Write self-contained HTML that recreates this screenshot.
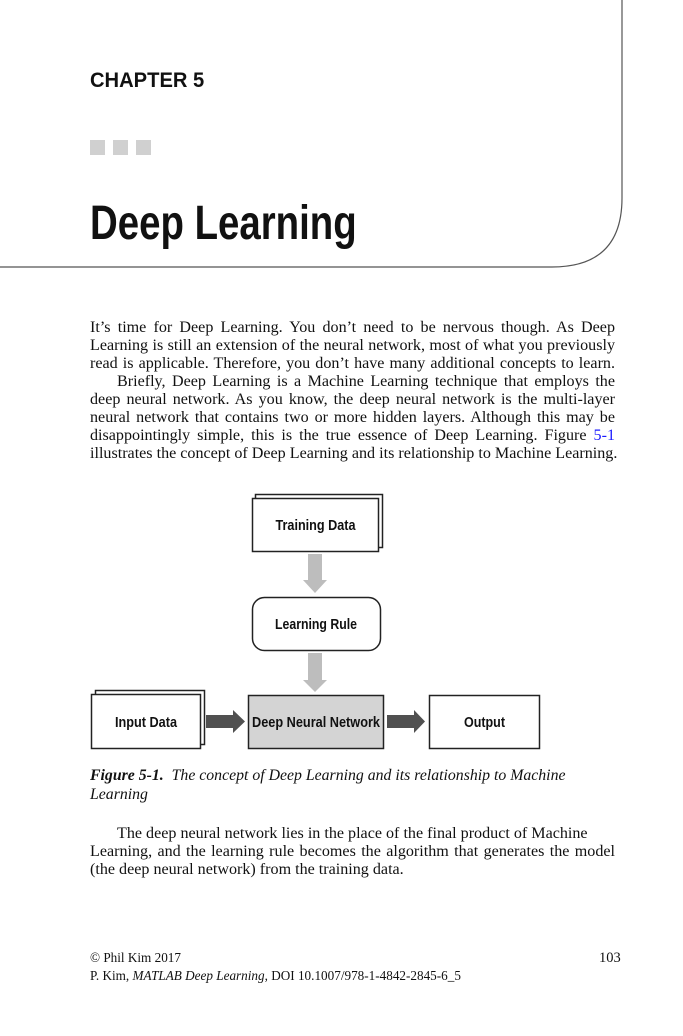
<!DOCTYPE html>
<html><head><meta charset="utf-8"><style>
html,body{margin:0;padding:0;background:#fff;}
body{width:683px;height:1036px;position:relative;overflow:hidden;font-family:"Liberation Serif",serif;color:#111;}
.l{position:absolute;left:90px;font-size:16.1px;white-space:nowrap;line-height:18px;}
.j{width:525px;text-align:justify;text-align-last:justify;}
.h{position:absolute;font-family:"Liberation Sans",sans-serif;font-weight:bold;white-space:nowrap;transform-origin:0 0;}
.sq{position:absolute;top:140px;width:15px;height:15px;background:#d0d0d0;}
.f{position:absolute;font-size:13.2px;white-space:nowrap;}
</style></head><body>
<svg style="position:absolute;left:0;top:0" width="683" height="280">
<path d="M622,0 V198 Q622,267 552,267 H0" fill="none" stroke="#555" stroke-width="1.2"/>
</svg>
<div class="h" style="left:90px;top:69px;font-size:21px;transform:scaleX(0.96);">CHAPTER 5</div>
<div class="sq" style="left:90px"></div><div class="sq" style="left:113px"></div><div class="sq" style="left:136px"></div>
<div class="h" style="left:90px;top:196px;font-size:48px;transform:scaleX(0.8);">Deep Learning</div>

<div class="l j" style="top:319px">It’s time for Deep Learning. You don’t need to be nervous though. As Deep</div>
<div class="l j" style="top:337px">Learning is still an extension of the neural network, most of what you previously</div>
<div class="l j" style="top:355px">read is applicable. Therefore, you don’t have many additional concepts to learn.</div>
<div class="l" style="top:373px;left:117px;width:498px;text-align:justify;text-align-last:justify">Briefly, Deep Learning is a Machine Learning technique that employs the</div>
<div class="l j" style="top:391px">deep neural network. As you know, the deep neural network is the multi-layer</div>
<div class="l j" style="top:409px">neural network that contains two or more hidden layers. Although this may be</div>
<div class="l j" style="top:427px">disappointingly simple, this is the true essence of Deep Learning. Figure <span style="color:#1a1aff">5-1</span></div>
<div class="l j" style="top:445px">illustrates the concept of Deep Learning and its relationship to Machine Learning.</div>

<svg style="position:absolute;left:0;top:480px" width="683" height="280" font-family="Liberation Sans, sans-serif" font-size="14.5" font-weight="bold">
<g transform="translate(0,-480)" stroke="#222" stroke-width="1.5">
<rect x="255.5" y="494.5" width="127" height="53" fill="#fff"/>
<rect x="252.5" y="498.5" width="126" height="53" fill="#fff"/>
<rect x="252.5" y="597.5" width="128" height="53" rx="12" fill="#fff"/>
<rect x="95.5" y="690.5" width="109" height="54" fill="#fff"/>
<rect x="91.5" y="694.5" width="109" height="54" fill="#fff"/>
<rect x="248.5" y="695.5" width="135" height="53" fill="#d4d4d4"/>
<rect x="429.5" y="695.5" width="110" height="53" fill="#fff"/>
</g>
<g transform="translate(0,-480)" stroke="none">
<path d="M308,554 H322 V580 H327 L315,593 L303,580 H308 Z" fill="#bdbdbd"/>
<path d="M308,653 H322 V680 H327 L315,692 L303,680 H308 Z" fill="#bdbdbd"/>
<path d="M206,715 H233 V710 L245,721.5 L233,733 V728 H206 Z" fill="#505050"/>
<path d="M387,715 H414 V710 L425,721.5 L414,733 V728 H387 Z" fill="#505050"/>
<g fill="#111" text-anchor="middle">
<text x="315.5" y="530" textLength="80" lengthAdjust="spacingAndGlyphs">Training Data</text>
<text x="316" y="629" textLength="82" lengthAdjust="spacingAndGlyphs">Learning Rule</text>
<text x="146" y="727" textLength="62" lengthAdjust="spacingAndGlyphs">Input Data</text>
<text x="316" y="727" textLength="128" lengthAdjust="spacingAndGlyphs">Deep Neural Network</text>
<text x="484.5" y="727" textLength="41" lengthAdjust="spacingAndGlyphs">Output</text>
</g></g>
</svg>

<div class="l" style="top:767px;font-style:italic;font-size:15.8px"><b>Figure 5-1.</b>&nbsp; The concept of Deep Learning and its relationship to Machine</div>
<div class="l" style="top:786px;font-style:italic;font-size:15.8px">Learning</div>
<div class="l" style="top:825px;left:117px">The deep neural network lies in the place of the final product of Machine</div>
<div class="l j" style="top:843px">Learning, and the learning rule becomes the algorithm that generates the model</div>
<div class="l" style="top:861px">(the deep neural network) from the training data.</div>

<div class="f" style="left:90px;top:950px">© Phil Kim 2017</div>
<div class="f" style="left:599px;top:950px;font-size:14.5px">103</div>
<div class="f" style="left:90px;top:968px">P. Kim, <i>MATLAB Deep Learning</i>, DOI 10.1007/978-1-4842-2845-6_5</div>
</body></html>
